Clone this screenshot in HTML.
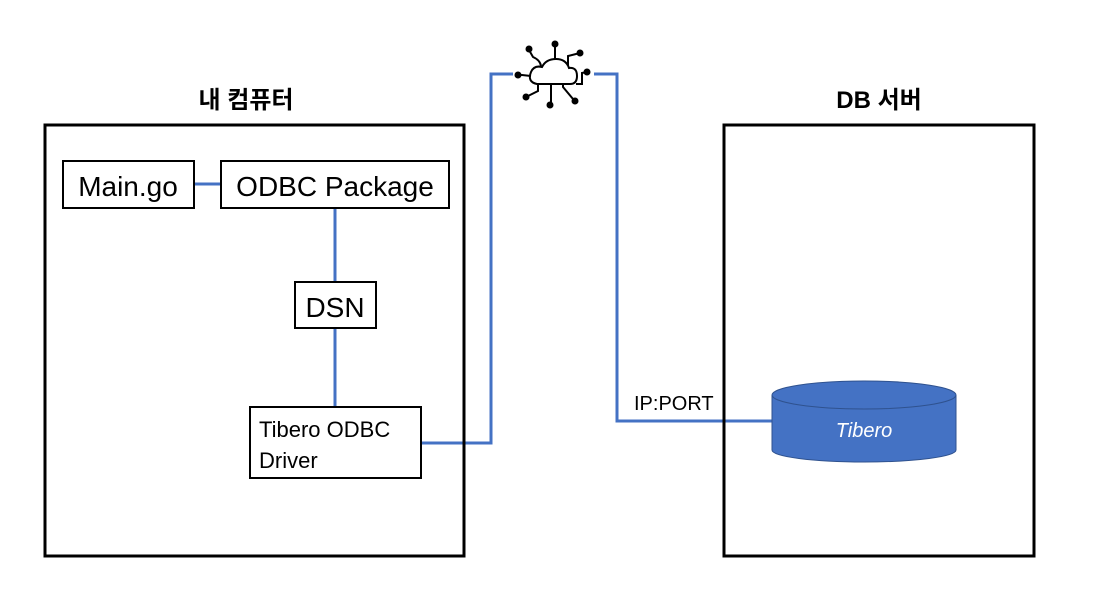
<!DOCTYPE html>
<html><head><meta charset="utf-8"><style>
body{margin:0;background:#fff;width:1119px;height:614px;overflow:hidden}
svg{display:block}
text{font-family:"Liberation Sans","Noto Sans CJK KR",sans-serif}
</style></head><body>
<svg width="1119" height="614" viewBox="0 0 1119 614">
<g fill="none" stroke="#4472c4" stroke-width="3">
<path d="M421 443H491V74H513"/>
<path d="M594 74H617V421H773"/>
<path d="M194 184H220"/>
<path d="M335 208V281"/>
<path d="M335 328V406"/>
</g>
<g fill="none" stroke="#000" stroke-width="3">
<rect x="45" y="125" width="419" height="431"/>
<rect x="724" y="125" width="310" height="431"/>
</g>
<g fill="#fff" stroke="#000" stroke-width="2">
<rect x="63" y="161" width="131" height="47"/>
<rect x="221" y="161" width="228" height="47"/>
<rect x="295" y="282" width="81" height="46"/>
<rect x="250" y="407" width="171" height="71"/>
</g>
<text x="246" y="108" font-size="24" font-weight="bold" text-anchor="middle">내 컴퓨터</text>
<text x="879" y="108" font-size="24" font-weight="bold" text-anchor="middle">DB 서버</text>
<text x="128" y="196" font-size="28" text-anchor="middle">Main.go</text>
<text x="335" y="196" font-size="28" text-anchor="middle">ODBC Package</text>
<text x="335" y="317" font-size="28" text-anchor="middle">DSN</text>
<text x="259" y="437" font-size="22">Tibero ODBC</text>
<text x="259" y="468" font-size="22">Driver</text>
<text x="634" y="410" font-size="20">IP:PORT</text>
<path d="M772 395V450A92 12 0 0 0 956 450V395" fill="#4472c4" stroke="#2f528f"/>
<ellipse cx="864" cy="395" rx="92" ry="14" fill="#4472c4" stroke="#2f528f"/>
<text x="864" y="437" font-size="20" font-style="italic" fill="#fff" text-anchor="middle">Tibero</text>
<g stroke="#000" stroke-width="2" fill="none">
<path d="M537 84Q527 82 531 72Q534 65 542 67Q546 59 556 59Q566 59 569 68Q577 67 577 76Q577 84 570 84Z"/>
<path d="M555 59V46M541 66Q540 60 533 57L529 50M568 66V56L580 53M576 84H582V73L587 72M531 76L522 75H518M538 84V91L528 96M551 84V104M563 84V87L573 99"/>
</g>
<g fill="#000">
<circle cx="555" cy="44" r="3.5"/><circle cx="529" cy="49" r="3.5"/><circle cx="580" cy="53" r="3.5"/>
<circle cx="587" cy="72" r="3.5"/><circle cx="518" cy="75" r="3.5"/><circle cx="526" cy="97" r="3.5"/>
<circle cx="550" cy="105" r="3.5"/><circle cx="575" cy="101" r="3.5"/>
</g>
</svg>
</body></html>
